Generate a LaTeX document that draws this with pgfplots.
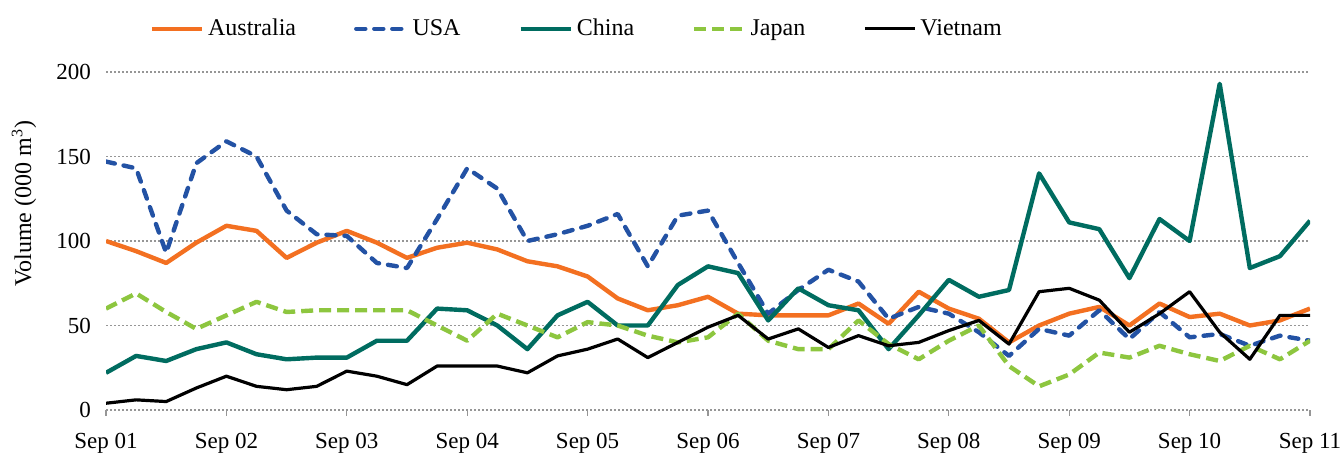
\documentclass[border=0pt]{standalone}
\usepackage{fontspec}
\setmainfont{Liberation Serif}
\usepackage{pgfplots}
\usepackage{pgfplotstable}
\pgfplotsset{compat=1.18}
\definecolor{aus}{RGB}{243,112,33}
\definecolor{usa}{RGB}{35,82,164}
\definecolor{chn}{RGB}{0,108,96}
\definecolor{jpn}{RGB}{141,198,63}
\definecolor{gridc}{RGB}{150,150,150}

% quarterly volumes, x = quarter index from Sep 01
\pgfplotstableread{
x aus usa chn jpn vnm
0 100 147 22 60 4
1 94 143 32 69 6
2 87 93 29 58 5
3 99 146 36 48 13
4 109 159 40 56 20
5 106 150 33 64 14
6 90 118 30 58 12
7 99 104 31 59 14
8 106 103 31 59 23
9 99 87 41 59 20
10 90 84 41 59 15
11 96 113 60 50 26
12 99 143 59 41 26
13 95 131 50 57 26
14 88 100 36 50 22
15 85 104 56 43 32
16 79 109 64 52 36
17 66 116 50 50 42
18 59 85 50 44 31
19 62 115 74 40 40
20 67 118 85 43 49
21 57 87 81 57 56
22 56 57 53 41 42
23 56 71 72 36 48
24 56 83 62 36 37
25 63 76 59 53 44
26 51 54 36 39 38
27 70 61 56 30 40
28 60 57 77 41 47
29 54 46 67 50 53
30 40 32 71 26 39
31 50 48 140 14 70
32 57 44 111 21 72
33 61 59 107 34 65
34 50 42 78 31 46
35 63 58 113 38 57
36 55 43 100 33 70
37 57 45 193 29 46
38 50 38 84 38 30
39 53 44 91 30 56
40 60 41 112 41 56
}\vol

\begin{document}
\begin{tikzpicture}
\begin{axis}[
  scale only axis, width=602pt, height=169pt,
  xmin=0, xmax=40, ymin=0, ymax=200,
  xtick={0,4,...,40},
  xticklabels={Sep 01,Sep 02,Sep 03,Sep 04,Sep 05,Sep 06,Sep 07,Sep 08,Sep 09,Sep 10,Sep 11},
  ytick={0,50,...,200},
  axis x line*=bottom, axis y line*=left,
  axis line style={draw=none},
  ymajorgrids,
  grid style={gridc, line width=0.6pt, dash pattern=on 1pt off 1pt},
  tick align=outside,
  xtick style={gridc, line width=0.6pt},
  major tick length=3pt,
  ytick style={draw=none},
  tick label style={font=\fontsize{11.5}{13}\selectfont},
  /pgf/number format/assume math mode=true,
  xticklabel style={yshift=-5pt},
  yticklabel style={xshift=-1pt},
  ylabel={Volume (000 m\textsuperscript{3})},
  ylabel style={font=\fontsize{12}{14}\selectfont, at={(rel axis cs:0,0.61)}, anchor=center, yshift=41pt},
  legend columns=5,
  legend style={at={(rel axis cs:0.036,1.128)}, anchor=west, draw=none, fill=none,
    font=\fontsize{12}{14}\selectfont, inner xsep=0pt,
    /tikz/every even column/.append style={column sep=27pt}},
  legend image code/.code={\draw[#1] (0pt,0pt) -- (25pt,0pt);},
  line join=round,
]
\addplot[aus, line width=2.2pt] table[x=x, y=aus] {\vol};
\addplot[usa, line width=2.2pt, line cap=round, dash pattern=on 4.5pt off 4.5pt] table[x=x, y=usa] {\vol};
\addplot[chn, line width=2.2pt] table[x=x, y=chn] {\vol};
\addplot[jpn, line width=2.2pt, dash pattern=on 6pt off 3pt] table[x=x, y=jpn] {\vol};
\addplot[black, line width=1.6pt] table[x=x, y=vnm] {\vol};
\legend{Australia, USA, China, Japan, Vietnam}
\end{axis}
\pgfresetboundingbox
\path ([shift={(-53pt,-22pt)}]current axis.south west) rectangle ([shift={(16pt,36pt)}]current axis.north east);
\end{tikzpicture}
\end{document}
